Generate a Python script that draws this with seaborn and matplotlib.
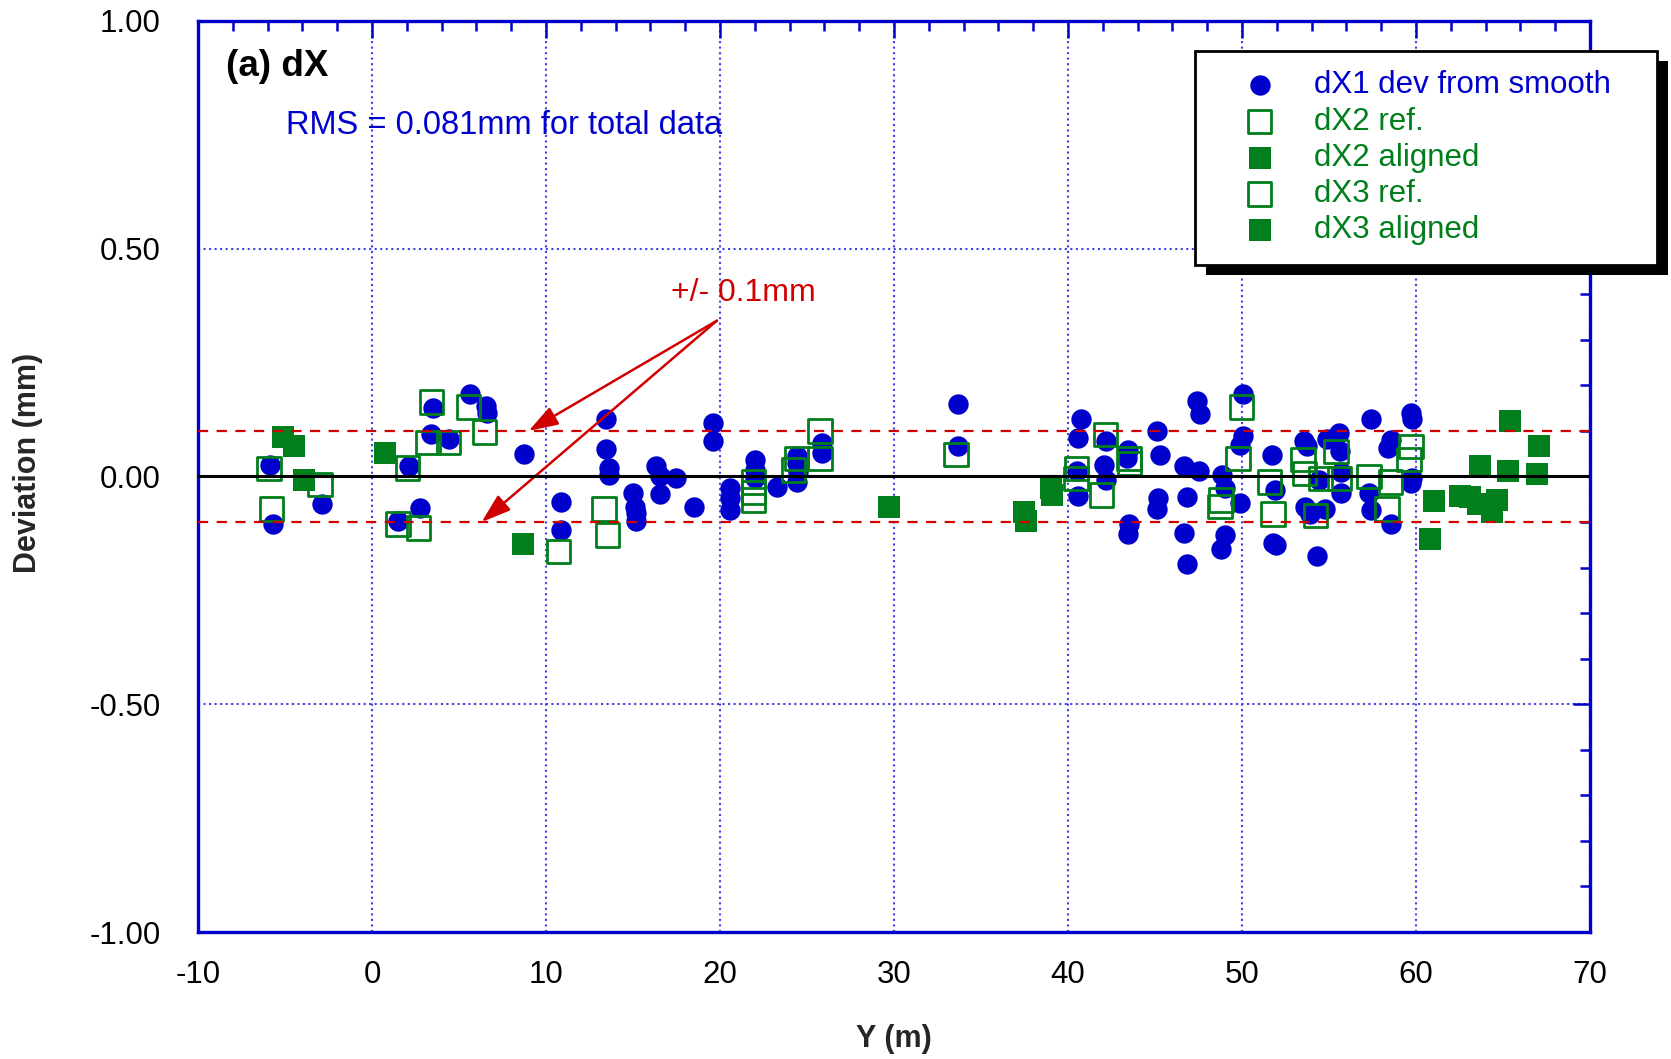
import matplotlib
matplotlib.use("Agg")
import matplotlib.pyplot as plt
from matplotlib.patches import Rectangle
from matplotlib.ticker import MultipleLocator, FormatStrFormatter
import seaborn as sns

# ---- measured deviations: Y position (m) and deviation (mm) ----
dx1_pos = [-5.86, -5.67, -2.87, 2.14, 1.51, 2.77, 3.52, 3.37, 4.44, 5.66, 6.58, 6.62,
           8.73, 10.85, 10.85, 13.43, 13.47, 13.62, 13.62, 15.0, 15.1, 15.15, 15.2,
           16.34, 16.53, 16.53, 17.45, 18.52, 19.59, 19.59, 20.55, 20.6, 20.55,
           22.04, 22.04, 22.04, 23.27, 24.4, 24.45, 24.5, 24.4, 25.87, 25.87,
           33.68, 33.7, 40.74, 40.59, 40.54, 40.56, 42.2, 42.08, 42.17, 43.46, 43.4,
           43.5, 43.45, 45.14, 45.27, 45.2, 45.1, 46.67, 47.53, 46.82, 46.67, 46.82,
           47.44, 47.59, 48.83, 49.0, 49.0, 48.8, 50.08, 50.08, 49.9, 49.9, 51.7,
           51.88, 51.8, 51.95, 53.56, 53.75, 53.65, 53.9, 54.32, 54.4, 54.9, 55.57,
           55.66, 54.8, 55.7, 55.7, 57.44, 57.3, 57.4, 58.54, 58.4, 58.54, 59.73,
           59.8, 59.72, 59.75]
dx1_dev = [0.026, -0.104, -0.061, 0.022, -0.098, -0.069, 0.150, 0.094, 0.083, 0.181, 0.155, 0.140,
           0.049, -0.056, -0.117, 0.126, 0.061, 0.018, 0.004, -0.037, -0.067, -0.080, -0.097,
           0.022, 0.000, -0.039, -0.004, -0.067, 0.118, 0.077, -0.026, -0.048, -0.074,
           0.037, 0.014, -0.004, -0.023, 0.045, 0.030, 0.010, -0.012, 0.074, 0.052,
           0.159, 0.066, 0.126, 0.085, 0.011, -0.043, 0.077, 0.026, -0.008, 0.059, 0.040,
           -0.104, -0.126, 0.100, 0.048, -0.048, -0.071, 0.022, 0.011, -0.045, -0.123, -0.193,
           0.166, 0.137, 0.003, -0.026, -0.128, -0.160, 0.181, 0.088, 0.070, -0.058, 0.048,
           -0.030, -0.145, -0.150, 0.077, 0.066, -0.067, -0.082, -0.174, -0.008, 0.082, 0.096,
           0.055, -0.071, -0.037, 0.010, 0.127, -0.037, -0.074, 0.080, 0.062, -0.104, 0.140,
           0.126, -0.014, -0.004]

dx2_ref_pos = [-5.93, -2.98, -5.78, 2.05, 3.41, 3.21, 4.40, 5.55, 6.47, 1.49, 2.68,
               10.73, 13.34, 13.53, 21.93, 21.93, 21.93, 24.4, 24.22, 25.76, 25.76]
dx2_ref_dev = [0.018, -0.017, -0.071, 0.019, 0.164, 0.075, 0.075, 0.153, 0.098, -0.104, -0.113,
               -0.165, -0.071, -0.128, -0.012, -0.035, -0.052, 0.040, 0.014, 0.100, 0.040]

dx2_aln_pos = [-5.13, -4.48, -3.9, 0.73, 8.65, 29.74, 37.49, 37.58, 39.0, 39.1]
dx2_aln_dev = [0.086, 0.068, -0.008, 0.051, -0.149, -0.067, -0.078, -0.097, -0.025, -0.040]

dx3_ref_pos = [33.56, 40.5, 40.45, 41.94, 42.17, 43.5, 43.55, 48.8, 48.75, 49.96, 49.77,
               51.59, 51.78, 53.5, 53.6, 54.23, 54.5, 55.41, 55.6, 57.29, 58.54, 58.34,
               59.72, 59.59]
dx3_ref_dev = [0.048, 0.018, -0.004, -0.041, 0.092, 0.040, 0.029, -0.052, -0.066, 0.153, 0.040,
               -0.012, -0.082, 0.037, 0.007, -0.086, -0.004, 0.055, -0.004, 0.000, -0.012, -0.071,
               0.066, 0.037]

dx3_aln_pos = [61.02, 60.83, 62.55, 63.1, 63.58, 64.37, 64.66, 63.7, 65.3, 65.42, 66.98, 67.09]
dx3_aln_dev = [-0.054, -0.137, -0.043, -0.045, -0.060, -0.078, -0.052, 0.022, 0.011, 0.122, 0.006, 0.068]

legend_labels = ["dX1 dev from smooth", "dX2 ref.", "dX2 aligned", "dX3 ref.", "dX3 aligned"]
y_ticks = [-1.0, -0.5, 0.0, 0.5, 1.0]
x_ticks = [-10, 0, 10, 20, 30, 40, 50, 60, 70]
tolerance = 0.1
rms_text = "RMS = 0.081mm for total data"

BLUE = "#0000CC"
GREEN = "#007F1C"
RED = "#D00000"
GRID = "#4040E6"

sns.set_theme(style="white")
plt.rcParams["font.family"] = ["Liberation Sans", "DejaVu Sans"]
plt.rcParams["axes.unicode_minus"] = False

fig = plt.figure(figsize=(16.71, 10.59), dpi=100)
ax = fig.add_axes([0.1185, 0.1199, 0.8330, 0.8603])

# scatter series
sns.scatterplot(x=dx1_pos, y=dx1_dev, marker="o", s=215, color=BLUE, edgecolor=BLUE,
                linewidth=0, label=legend_labels[0], ax=ax, zorder=3)
sns.scatterplot(x=dx2_ref_pos, y=dx2_ref_dev, marker="s", s=285, facecolor="none",
                edgecolor=GREEN, linewidth=2.0, label=legend_labels[1], ax=ax, zorder=3)
sns.scatterplot(x=dx2_aln_pos, y=dx2_aln_dev, marker="s", s=240, color=GREEN, edgecolor=GREEN,
                linewidth=0, label=legend_labels[2], ax=ax, zorder=3)
sns.scatterplot(x=dx3_ref_pos, y=dx3_ref_dev, marker="s", s=285, facecolor="none",
                edgecolor=GREEN, linewidth=2.0, label=legend_labels[3], ax=ax, zorder=3)
sns.scatterplot(x=dx3_aln_pos, y=dx3_aln_dev, marker="s", s=240, color=GREEN, edgecolor=GREEN,
                linewidth=0, label=legend_labels[4], ax=ax, zorder=3)

# reference lines
ax.axhline(0.0, color="black", lw=2.2, zorder=4)
for lim in (tolerance, -tolerance):
    ax.axhline(lim, color=RED, lw=1.6, ls=(0, (4.6, 3.8)), zorder=4)

# axes, ticks, grid
ax.set_xlim(x_ticks[0], x_ticks[-1])
ax.set_ylim(y_ticks[0], y_ticks[-1])
ax.set_xticks(x_ticks)
ax.set_yticks(y_ticks)
ax.xaxis.set_minor_locator(MultipleLocator(2))
ax.yaxis.set_minor_locator(MultipleLocator(0.1))
ax.yaxis.set_major_formatter(FormatStrFormatter("%.2f"))
ax.grid(which="major", color=GRID, linestyle=":", linewidth=1.5)
ax.set_axisbelow(True)
for sp in ax.spines.values():
    sp.set_color(BLUE)
    sp.set_linewidth(2.4)
ax.tick_params(which="both", direction="in", top=True, right=True, color=BLUE,
               width=1.8, labelcolor="black", labelsize=22.5)
ax.tick_params(which="major", length=12)
ax.tick_params(which="minor", length=7)
ax.tick_params(axis="y", which="major", pad=27)
ax.tick_params(axis="x", which="major", pad=20)

ax.set_xlabel("Y (m)", fontsize=22, fontweight="bold")
ax.set_ylabel("Deviation (mm)", fontsize=22, fontweight="bold")
ax.xaxis.set_label_coords(0.5, -0.1175)
ax.xaxis.label.set_verticalalignment("center")
ax.yaxis.set_label_coords(-0.1221, 0.515)
ax.yaxis.label.set_verticalalignment("center")

# annotations
ax.text(-8.38, 0.899, "(a) dX", fontsize=26.5, fontweight="bold", color="black",
        ha="left", va="center")
ax.text(-4.94, 0.770, rms_text, fontsize=23.5, color=BLUE, ha="left", va="center")
ax.text(17.2, 0.403, "+/- 0.1mm", fontsize=23, color=RED, ha="left", va="center")
arrow_kw = dict(arrowstyle="-|>,head_length=0.9,head_width=0.3", color=RED, lw=1.8,
                shrinkA=0, shrinkB=0, mutation_scale=20)
ax.annotate("", xy=(9.0, tolerance), xytext=(19.82, 0.342), arrowprops=arrow_kw)
ax.annotate("", xy=(6.3, -tolerance), xytext=(19.82, 0.342), arrowprops=arrow_kw)

# legend with a solid drop shadow
leg = ax.legend(loc="upper left", bbox_to_anchor=(0.7151, 0.7518, 0.2765, 0.2),
                bbox_transform=fig.transFigure, mode="expand", borderaxespad=0,
                fontsize=22.5, frameon=True, fancybox=False, framealpha=1,
                edgecolor="black", borderpad=0.62, labelspacing=0.2,
                handlelength=2.9, handletextpad=0.3)
leg.get_frame().set_linewidth(2.0)
for txt, col in zip(leg.get_texts(), [BLUE, GREEN, GREEN, GREEN, GREEN]):
    txt.set_color(col)

fig.canvas.draw()
bb = leg.get_window_extent().transformed(fig.transFigure.inverted())
dx, dy = 11 / fig.bbox.width, 10 / fig.bbox.height
shadow = Rectangle((bb.x0 + dx, bb.y0 - dy), bb.width, bb.height, transform=fig.transFigure,
                   facecolor="black", edgecolor="none", zorder=4.9, clip_on=False)
ax.add_artist(shadow)

fig.savefig("out.png", dpi=100)
